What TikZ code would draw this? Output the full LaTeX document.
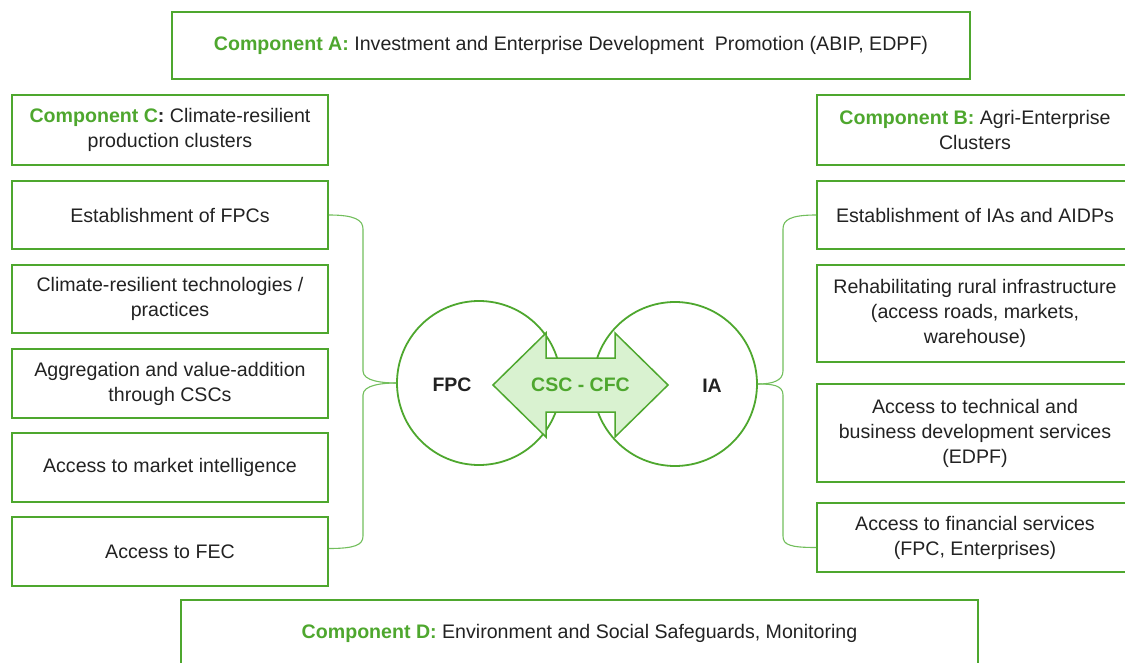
\documentclass[tikz,border=0pt]{standalone}
\usepackage{fontspec}
\setmainfont{Liberation Sans}
\usetikzlibrary{calc}
\definecolor{leaf}{HTML}{4EA72E}
\definecolor{leafline}{HTML}{72BE5C}
\definecolor{leaffill}{HTML}{D9F2D0}
\definecolor{ink}{HTML}{222222}
\newcommand\comptitle[1]{\textcolor{leaf}{\bfseries #1}}
\begin{document}
\begin{tikzpicture}[x=1pt,y=-1pt,
  box/.style={draw=leaf, line width=1.8pt, rectangle, inner sep=0pt,
    align=center, text=ink, font=\fontsize{19.6}{25}\selectfont},
  sidebox/.style={box, minimum width=316pt},
  ring/.style={circle, draw=leaf, line width=1.8pt, minimum size=164pt, inner sep=0pt},
  conn/.style={draw=leafline, line width=1.1pt},
  hub/.style={font=\fontsize{19.5}{22}\selectfont\bfseries, text=ink}]
\useasboundingbox (0,0) rectangle (1125,663);

% component headers
\node[box, minimum width=798pt, minimum height=67pt] (A) at (571,45.5)
  {\comptitle{Component A:} Investment and Enterprise Development\ \ Promotion (ABIP, EDPF)};
\node[sidebox, minimum height=70pt] (C) at (170,130)
  {\comptitle{Component C}\textcolor{ink}{\bfseries :} Climate-resilient\\production clusters};
\node[sidebox, minimum height=70pt] (B) at (975,130)
  {\comptitle{Component B:} Agri-Enterprise\\Clusters};
\node[box, minimum width=797pt, minimum height=66pt] (D) at (579.5,633)
  {\comptitle{Component D:} Environment and Social Safeguards, Monitoring};

% left column
\node[sidebox, minimum height=68pt] (L1) at (170,215) {Establishment of FPCs};
\node[sidebox, minimum height=68pt] (L2) at (170,299) {Climate-resilient technologies /\\practices};
\node[sidebox, minimum height=69pt] (L3) at (170,383.5) {Aggregation and value-addition\\through CSCs};
\node[sidebox, minimum height=69pt] (L4) at (170,467.5) {Access to market intelligence};
\node[sidebox, minimum height=69pt] (L5) at (170,551.5) {Access to FEC};

% right column
\node[sidebox, minimum height=68pt] (R1) at (975,215) {Establishment of IAs and AIDPs};
\node[sidebox, minimum height=97pt] (R2) at (975,313.5) {Rehabilitating rural infrastructure\\(access roads, markets,\\warehouse)};
\node[sidebox, minimum height=98pt] (R3) at (975,433) {Access to technical and\\business development services\\(EDPF)};
\node[sidebox, minimum height=69pt] (R4) at (975,537.5) {Access to financial services\\(FPC, Enterprises)};

% central circles
\node[ring] (FPC) at (479,383) {};
\node[ring] (IA) at (675,384) {};
\node[hub] (fpcname) at (452,385) {FPC};
\node[hub] (ianame) at (712,386) {IA};

% two-way exchange arrow
\coordinate (mid) at (580.5,385);
\draw[fill=leaffill, draw=leaf, line width=1.5pt, line join=miter]
  ($(mid)+(-87.5,0)$) -- ($(mid)+(-34.5,-52)$) -- ($(mid)+(-34.5,-27)$)
  -- ($(mid)+(34.5,-27)$) -- ($(mid)+(34.5,-52)$) -- ($(mid)+(87.5,0)$)
  -- ($(mid)+(34.5,52)$) -- ($(mid)+(34.5,27)$) -- ($(mid)+(-34.5,27)$)
  -- ($(mid)+(-34.5,52)$) -- cycle;
\node[font=\fontsize{19.5}{22}\selectfont\bfseries, text=leaf] (xchg) at (mid) {CSC - CFC};

% left brace
\draw[conn] (L1.east) .. controls +(26,0) and +(0,-9) .. (363,229) -- (363,371)
  .. controls +(0,10) and +(-14,0) .. (FPC.west);
\draw[conn] (FPC.west) .. controls +(-14,0) and +(0,-10) .. (363,395) -- (363,536)
  .. controls +(0,9) and +(26,0) .. ([yshift=3pt]L5.east);

% right brace
\draw[conn] (R1.west) .. controls +(-26,0) and +(0,-9) .. (783,229) -- (783,371)
  .. controls +(0,10) and +(14,0) .. (IA.east);
\draw[conn] (IA.east) .. controls +(14,0) and +(0,-10) .. (783,395) -- (783,536)
  .. controls +(0,9) and +(-26,0) .. ([yshift=-10pt]R4.west);
\end{tikzpicture}
\end{document}
